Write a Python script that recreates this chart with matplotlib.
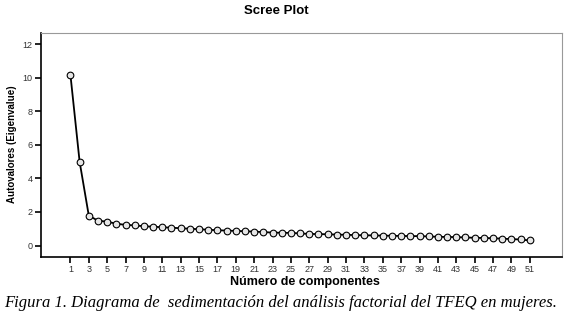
import matplotlib
matplotlib.use("Agg")
import matplotlib.pyplot as plt

# Eigenvalues (components 1..51)
components = list(range(1, 52))
eigenvalues = [10.18, 5.0, 1.78, 1.48, 1.42, 1.30, 1.23, 1.20, 1.15, 1.12,
               1.09, 1.06, 1.03, 1.00, 0.97, 0.94, 0.91, 0.89, 0.87, 0.85,
               0.83, 0.80, 0.77, 0.76, 0.75, 0.72, 0.69, 0.68, 0.67, 0.65,
               0.64, 0.62, 0.61, 0.60, 0.59, 0.58, 0.57, 0.56, 0.56, 0.54,
               0.52, 0.51, 0.50, 0.48, 0.46, 0.45, 0.43, 0.41, 0.38, 0.36,
               0.30]
x_ticks = list(range(1, 52, 2))
y_ticks = [0, 2, 4, 6, 8, 10, 12]

title = "Scree Plot"
x_label = "Número de componentes"
y_label = "Autovalores (Eigenvalue)"
caption = ("Figura 1. Diagrama de  sedimentación del análisis factorial "
           "del TFEQ en mujeres.")

fig = plt.figure(figsize=(5.65, 3.17), dpi=100)
ax = fig.add_axes([0.0726, 0.189, 0.922, 0.707])

ax.plot(components, eigenvalues, color="black", linewidth=1.3,
        marker="o", markersize=4.8, markerfacecolor="#e6e6e6",
        markeredgecolor="black", markeredgewidth=0.8)

ax.set_xlim(-2.2, 54.5)
ax.set_ylim(-0.69, 12.67)
ax.set_xticks(x_ticks)
ax.set_yticks(y_ticks)
ax.tick_params(axis="both", direction="out", length=4, width=1.2,
               labelsize=6.5, labelcolor="#333333", pad=2)

for side in ["top", "right"]:
    ax.spines[side].set_color("#999999")
    ax.spines[side].set_linewidth(0.8)
for side in ["left", "bottom"]:
    ax.spines[side].set_color("black")
    ax.spines[side].set_linewidth(1.2)

for lbl in ax.get_xticklabels() + ax.get_yticklabels():
    lbl.set_family("Liberation Sans")

fig.text(0.489, 0.966, title, ha="center", va="center", fontsize=9.5,
         fontweight="bold", family="Liberation Sans")
fig.text(0.54, 0.11, x_label, ha="center", va="center", fontsize=9,
         fontweight="bold", family="Liberation Sans")
fig.text(0.022, 0.545, y_label, ha="center", va="center", fontsize=7,
         fontweight="bold", family="Liberation Sans", rotation=90)
fig.text(0.008, 0.043, caption, ha="left", va="center", fontsize=12,
         style="italic", family="Liberation Serif")

fig.savefig("out.png", dpi=100)
